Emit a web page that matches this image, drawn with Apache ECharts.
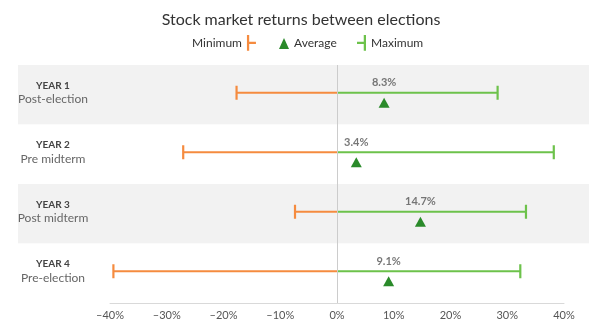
<!DOCTYPE html>
<html>
<head>
<meta charset="utf-8">
<script src="https://cdn.jsdelivr.net/npm/echarts@6/dist/echarts.min.js"></script>
<style>
html,body{margin:0;padding:0;background:#fff;}
#main{width:602px;height:327px;}
</style>
</head>
<body>
<div id="main"></div>
<script>
const categories = ['YEAR 1', 'YEAR 2', 'YEAR 3', 'YEAR 4'];
const subtitles = ['Post-election', 'Pre midterm', 'Post midterm', 'Pre-election'];
const minValues = [-17.7, -27.1, -7.4, -39.4];
const maxValues = [28.3, 38.2, 33.3, 32.3];
const avgValues = [8.3, 3.4, 14.7, 9.1];
const xMin = -40, xMax = 40, xStep = 10;

const ORANGE = '#F58B3F';
const GREEN = '#6DC24B';
const DARKGREEN = '#2A8A2A';
const FONT = 'Lato';
const LINE_OFF = -2;

const rangeData = (vals) => categories.map((c, i) => [i, vals[i]]);

function makeRender(color) {
  return function (params, api) {
    const cat = api.value(0);
    const v = api.value(1);
    const p0 = api.coord([0, cat]);
    const p1 = api.coord([v, cat]);
    const y = p0[1] + LINE_OFF;
    return {
      type: 'group',
      children: [
        { type: 'line', shape: { x1: p0[0], y1: y, x2: p1[0], y2: y }, style: { stroke: color, lineWidth: 2.2 } },
        { type: 'line', shape: { x1: p1[0], y1: y - 7, x2: p1[0], y2: y + 7 }, style: { stroke: color, lineWidth: 2.2 } }
      ]
    };
  };
}

const chart = echarts.init(document.getElementById('main'), null, { renderer: 'canvas' });
const option = {
  animation: false,
  textStyle: { fontFamily: FONT },
  title: {
    text: 'Stock market returns between elections',
    left: 'center', top: 7,
    textStyle: { fontFamily: FONT, fontSize: 16, fontWeight: 'normal', color: '#333' }
  },
  legend: [
    {
      data: [{ name: 'Minimum', icon: 'path://M0,0 L2,0 L2,6 L8,6 L8,8 L2,8 L2,14 L0,14 Z' }],
      align: 'right', left: 187, top: 30, itemWidth: 9, itemHeight: 16,
      textStyle: { fontFamily: FONT, fontSize: 12, color: '#333' }, selectedMode: false
    },
    {
      data: [{ name: 'Average', icon: 'triangle' }],
      left: 274, top: 32.5, itemWidth: 10, itemHeight: 11,
      textStyle: { fontFamily: FONT, fontSize: 12, color: '#333' }, selectedMode: false
    },
    {
      data: [{ name: 'Maximum', icon: 'path://M0,6 L6,6 L6,0 L8,0 L8,14 L6,14 L6,8 L0,8 Z' }],
      left: 352, top: 30, itemWidth: 9, itemHeight: 16,
      textStyle: { fontFamily: FONT, fontSize: 12, color: '#333' }, selectedMode: false
    }
  ],
  grid: [
    { left: 18, right: 13, top: 65, bottom: 24 },
    { left: 110, right: 38, top: 65, bottom: 24 }
  ],
  xAxis: [
    { gridIndex: 0, type: 'value', min: 0, max: 1, show: false },
    {
      gridIndex: 1, type: 'value', min: xMin, max: xMax, interval: xStep,
      axisLine: { show: true, lineStyle: { color: '#d9d9d9', width: 1 } },
      axisTick: { show: false },
      splitLine: { show: false },
      axisLabel: {
        margin: 7, fontFamily: FONT, fontSize: 11, color: '#555',
        formatter: v => (v < 0 ? '\u2013' + Math.abs(v) : v) + '%'
      }
    }
  ],
  yAxis: [
    {
      gridIndex: 0, type: 'category', data: categories, inverse: true,
      axisLine: { show: false }, axisTick: { show: false }, axisLabel: { show: false },
      splitLine: { show: false },
      splitArea: { show: true, areaStyle: { color: ['#f2f2f2', '#ffffff'] } }
    },
    {
      gridIndex: 1, type: 'category', data: categories, inverse: true,
      axisLine: { show: false }, axisTick: { show: false }, splitLine: { show: false },
      axisLabel: {
        align: 'center', margin: 57, padding: [0, 0, 4, 0],
        formatter: (v, i) => '{a|' + v + '}\n{b|' + subtitles[i] + '}',
        rich: {
          a: { fontFamily: FONT, fontSize: 10, fontWeight: 'bold', color: '#444', lineHeight: 13, align: 'center' },
          b: { fontFamily: FONT, fontSize: 12, color: '#666', lineHeight: 14, align: 'center' }
        }
      }
    }
  ],
  series: [
    {
      name: 'Minimum', type: 'custom', xAxisIndex: 1, yAxisIndex: 1,
      itemStyle: { color: ORANGE },
      renderItem: makeRender(ORANGE),
      encode: { x: 1, y: 0 },
      data: rangeData(minValues),
      markLine: {
        silent: true, symbol: 'none', label: { show: false },
        lineStyle: { color: '#cccccc', width: 1, type: 'solid' },
        data: [{ xAxis: 0 }]
      }
    },
    {
      name: 'Maximum', type: 'custom', xAxisIndex: 1, yAxisIndex: 1,
      itemStyle: { color: GREEN },
      renderItem: makeRender(GREEN),
      encode: { x: 1, y: 0 },
      data: rangeData(maxValues)
    },
    {
      name: 'Average', type: 'scatter', xAxisIndex: 1, yAxisIndex: 1,
      symbol: 'triangle', symbolSize: [11, 10], symbolOffset: [0, 8],
      itemStyle: { color: DARKGREEN, opacity: 1 },
      data: avgValues.map((v, i) => [v, i]),
      z: 5
    },
    {
      name: 'avgLabel', type: 'scatter', xAxisIndex: 1, yAxisIndex: 1,
      symbolSize: 0, itemStyle: { color: 'rgba(0,0,0,0)' },
      label: {
        show: true, position: 'inside', offset: [0, -12],
        fontFamily: FONT, fontSize: 11, fontWeight: 'bold', color: '#555',
        formatter: p => p.value[0] + '%'
      },
      data: avgValues.map((v, i) => [v, i]),
      z: 5
    }
  ]
};
chart.setOption(option);
</script>
</body>
</html>
